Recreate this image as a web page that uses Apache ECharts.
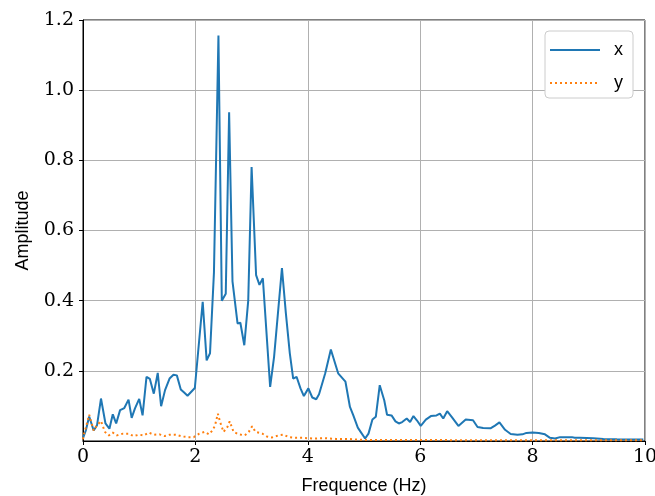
<!DOCTYPE html>
<html>
<head>
<meta charset="utf-8">
<script src="https://cdn.jsdelivr.net/npm/echarts@6/dist/echarts.min.js"></script>
<style>html,body{margin:0;padding:0;background:#fff}#c{width:655px;height:496px}</style>
</head>
<body>
<div id="c"></div>
<script>
// Series "x" (solid blue): frequency (Hz) and amplitude
var xFreq = [0.00,0.05,0.11,0.19,0.25,0.32,0.40,0.47,0.53,0.59,0.66,0.735,0.81,0.866,0.925,1.00,1.06,1.13,1.19,1.26,1.33,1.39,1.46,1.54,1.61,1.67,1.74,1.80,1.86,1.99,2.13,2.20,2.26,2.33,2.41,2.47,2.54,2.60,2.66,2.75,2.80,2.87,2.94,3.00,3.08,3.14,3.20,3.33,3.40,3.54,3.61,3.68,3.74,3.80,3.87,3.93,4.01,4.08,4.15,4.20,4.31,4.41,4.54,4.67,4.75,4.81,4.89,4.94,5.02,5.08,5.15,5.21,5.28,5.36,5.41,5.49,5.56,5.62,5.68,5.76,5.82,5.88,5.94,6.01,6.10,6.19,6.29,6.35,6.41,6.48,6.56,6.68,6.81,6.94,7.02,7.12,7.25,7.33,7.41,7.51,7.61,7.73,7.82,7.89,8.00,8.11,8.22,8.31,8.40,8.49,8.59,8.70,8.75,8.84,9.08,9.26,9.50,9.97];
var xAmp  = [0.008,0.03,0.07,0.03,0.045,0.121,0.05,0.035,0.076,0.05,0.088,0.094,0.118,0.066,0.093,0.12,0.073,0.183,0.177,0.135,0.194,0.099,0.145,0.178,0.189,0.187,0.147,0.138,0.129,0.151,0.397,0.23,0.25,0.48,1.156,0.40,0.42,0.937,0.455,0.335,0.337,0.273,0.40,0.781,0.473,0.445,0.464,0.154,0.24,0.493,0.364,0.25,0.178,0.183,0.15,0.128,0.15,0.124,0.119,0.133,0.193,0.261,0.193,0.169,0.097,0.073,0.038,0.026,0.007,0.021,0.061,0.069,0.159,0.116,0.075,0.073,0.056,0.05,0.054,0.064,0.054,0.071,0.059,0.043,0.061,0.071,0.073,0.078,0.064,0.085,0.069,0.043,0.061,0.059,0.04,0.037,0.036,0.044,0.053,0.032,0.02,0.018,0.019,0.023,0.024,0.023,0.019,0.009,0.007,0.011,0.011,0.011,0.009,0.009,0.008,0.006,0.005,0.004];
// Series "y" (dotted orange)
var yFreq = [0.00,0.01,0.05,0.11,0.19,0.25,0.32,0.39,0.46,0.53,0.60,0.71,0.81,0.90,1.00,1.08,1.17,1.26,1.36,1.45,1.54,1.65,1.76,1.87,1.97,2.07,2.16,2.24,2.31,2.35,2.40,2.44,2.50,2.57,2.61,2.68,2.77,2.88,2.95,3.01,3.07,3.19,3.27,3.36,3.48,3.57,3.66,3.78,3.90,4.10,4.30,4.50,4.70,5.00,6.00,7.00,8.00,9.00,10.00];
var yAmp  = [0.005,0.016,0.038,0.075,0.03,0.045,0.057,0.026,0.016,0.024,0.016,0.021,0.021,0.014,0.018,0.016,0.024,0.018,0.019,0.014,0.018,0.018,0.013,0.011,0.011,0.021,0.026,0.019,0.031,0.045,0.078,0.054,0.026,0.04,0.056,0.026,0.019,0.016,0.026,0.042,0.026,0.021,0.013,0.01,0.016,0.018,0.011,0.009,0.009,0.007,0.008,0.006,0.006,0.003,0.003,0.002,0.002,0.002,0.002];
// Axis ticks
var xTicks = [0,2,4,6,8,10];
var yTicks = [0.2,0.4,0.6,0.8,1.0,1.2];

function pairs(a,b){ return a.map(function(v,i){ return [v,b[i]]; }); }

var chart = echarts.init(document.getElementById('c'), null, {renderer:'canvas'});
var serif = '"DejaVu Serif", "Liberation Serif", serif';
var sans = '"Liberation Sans", "DejaVu Sans", sans-serif';
chart.setOption({
  animation: false,
  backgroundColor: '#ffffff',
  grid: {left: 83, right: 10, top: 20, bottom: 55, outerBoundsMode: 'none', containLabel: false,
         show: true, borderColor: '#000', borderWidth: 1, backgroundColor: 'transparent'},
  legend: {
    left: 545, top: 31, orient: 'vertical',
    itemWidth: 50, itemHeight: 14, itemGap: 15,
    padding: [10, 10, 6, 4],
    backgroundColor: '#fff', borderColor: '#cccccc', borderWidth: 1, borderRadius: 4,
    itemStyle: {opacity: 0, borderWidth: 0},
    textStyle: {fontFamily: sans, fontSize: 18, color: '#000', padding: [0,0,0,9]},
    data: [{name:'x'},{name:'y'}]
  },
  xAxis: {
    type: 'value', min: 0, max: 10, interval: 2,
    name: 'Frequence (Hz)', nameLocation: 'middle', nameGap: 36,
    nameTextStyle: {fontFamily: sans, fontSize: 18, color: '#000'},
    axisLine: {show: true, lineStyle: {color: '#000', width: 1}},
    axisTick: {show: true, inside: false, length: 4, lineStyle: {color: '#000'}, customValues: xTicks},
    axisLabel: {fontFamily: serif, fontSize: 19, color: '#000', margin: 7, customValues: xTicks},
    splitLine: {show: true, lineStyle: {color: '#b0b0b0', width: 1}}
  },
  yAxis: {
    type: 'value', min: 0, max: 1.2, interval: 0.2,
    name: 'Amplitude', nameLocation: 'middle', nameGap: 51, nameRotate: 90,
    nameTextStyle: {fontFamily: sans, fontSize: 18, color: '#000'},
    axisLine: {show: true, lineStyle: {color: '#000', width: 1}},
    axisTick: {show: true, inside: false, length: 4, lineStyle: {color: '#000'}, customValues: yTicks},
    axisLabel: {fontFamily: serif, fontSize: 19, color: '#000', margin: 9, customValues: yTicks,
      formatter: function(v){ return v === 0 ? '' : v.toFixed(1); }},
    splitLine: {show: true, lineStyle: {color: '#b0b0b0', width: 1}}
  },
  series: [
    {name: 'x', type: 'line', data: pairs(xFreq, xAmp), symbol: 'none', clip: true,
     lineStyle: {color: '#1f77b4', width: 2}, itemStyle: {color: '#1f77b4'}},
    {name: 'y', type: 'line', data: pairs(yFreq, yAmp), symbol: 'none', clip: true,
     lineStyle: {color: '#ff7f0e', width: 2, type: [2, 3]}, itemStyle: {color: '#ff7f0e'}}
  ]
});
</script>
</body>
</html>
